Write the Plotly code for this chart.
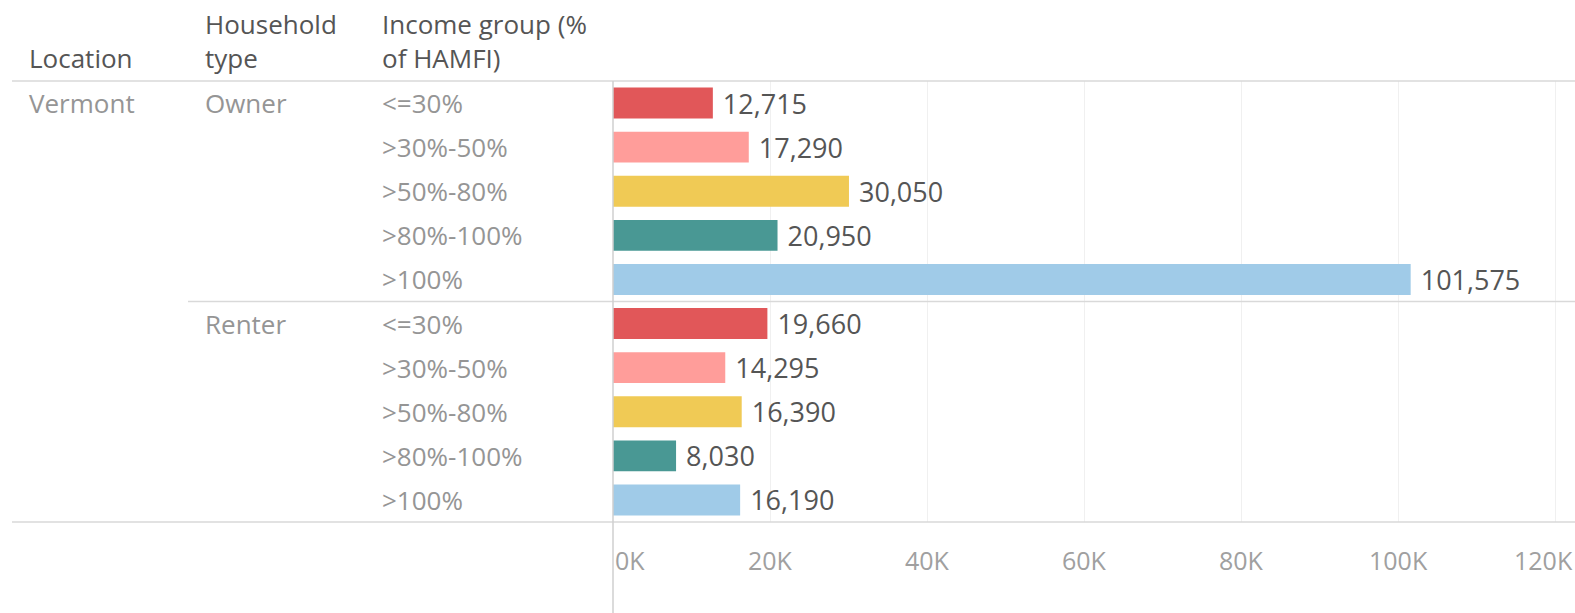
import plotly.graph_objects as go

locations = ["Vermont"]
household_types = ["Owner", "Renter"]
income_groups = ["<=30%", ">30%-50%", ">50%-80%", ">80%-100%", ">100%"]
owner_values = [12715, 17290, 30050, 20950, 101575]
renter_values = [19660, 14295, 16390, 8030, 16190]
group_colors = ["#E15759", "#FF9D9A", "#F0CA55", "#499894", "#A0CBE8"]
tick_values = [0, 20000, 40000, 60000, 80000, 100000, 120000]
tick_labels = ["0K", "20K", "40K", "60K", "80K", "100K", "120K"]
headers = ["Location", "Household<br>type", "Income group (%<br>of HAMFI)"]

W, H = 1575, 613
L, R, T, B = 613, 0, 81, 91
PW = W - L - R
PH = H - T - B

def px_x(p):
    return (p - L) / PW

def px_y(p):
    return (H - B - p) / PH

FONT = "Open Sans"

values = owner_values + renter_values
ypos = list(range(len(values)))
colors = group_colors * len(household_types)

fig = go.Figure()
fig.add_trace(go.Bar(
    x=values, y=ypos, orientation="h",
    marker=dict(color=colors, line=dict(width=0)),
    width=0.7,
    text=[f" {v:,}" for v in values],
    textposition="outside",
    constraintext="none",
    textfont=dict(family=FONT, size=27, color="#555555"),
    cliponaxis=False,
    hoverinfo="skip",
))

ann = []
hx = [27, 203, 380]
for i, h in enumerate(headers):
    ann.append(dict(xref="paper", yref="paper", x=px_x(hx[i]), y=px_y(78),
                    xanchor="left", yanchor="bottom", text=h, showarrow=False, align="left",
                    font=dict(family=FONT, size=26, color="#555555")))
ann.append(dict(xref="paper", yref="y", x=px_x(27), y=0, xanchor="left", yanchor="middle",
                text=locations[0], showarrow=False, font=dict(family=FONT, size=26, color="#959595")))
for j, ht in enumerate(household_types):
    ann.append(dict(xref="paper", yref="y", x=px_x(203), y=j * len(income_groups), xanchor="left",
                    yanchor="middle", text=ht, showarrow=False,
                    font=dict(family=FONT, size=26, color="#959595")))
    for k, g in enumerate(income_groups):
        ann.append(dict(xref="paper", yref="y", x=px_x(380), y=j * len(income_groups) + k,
                        xanchor="left", yanchor="middle", text=g.replace("<", "&lt;").replace(">", "&gt;"),
                        showarrow=False, font=dict(family=FONT, size=26, color="#959595")))

# axis tick labels (first label starts at the axis, last label sits at the right edge)
n_ticks = len(tick_values)
for i, (tv, tl) in enumerate(zip(tick_values, tick_labels)):
    if i == 0:
        a = dict(xref="x", x=tv, xanchor="left")
    elif i == n_ticks - 1:
        a = dict(xref="paper", x=1, xanchor="right")
    else:
        a = dict(xref="x", x=tv, xanchor="center")
    a.update(yref="paper", y=px_y(560), yanchor="middle", text=tl, showarrow=False,
             font=dict(family=FONT, size=25, color="#a0a0a0"))
    ann.append(a)

shapes = [
    dict(type="line", xref="paper", yref="paper", x0=px_x(12), x1=1, y0=px_y(81), y1=px_y(81),
         line=dict(color="#d9d9d9", width=1.5)),
    dict(type="line", xref="paper", yref="paper", x0=px_x(188), x1=1, y0=px_y(301.5), y1=px_y(301.5),
         line=dict(color="#d9d9d9", width=1.5)),
    dict(type="line", xref="paper", yref="paper", x0=px_x(12), x1=1, y0=px_y(522), y1=px_y(522),
         line=dict(color="#d9d9d9", width=1.5)),
    dict(type="line", xref="paper", yref="paper", x0=0, x1=0, y0=px_y(81), y1=px_y(613),
         line=dict(color="#cfcfcf", width=1.5)),
]

fig.update_layout(
    width=W, height=H,
    margin=dict(l=L, r=R, t=T, b=B),
    paper_bgcolor="white", plot_bgcolor="white",
    showlegend=False,
    annotations=ann,
    shapes=shapes,
    xaxis=dict(range=[0, 122500], tickvals=tick_values, showticklabels=False,
               showgrid=True, gridcolor="#f0f0f0", gridwidth=1, zeroline=False,
               showline=False, ticks="", fixedrange=True),
    yaxis=dict(range=[len(values) - 0.5, -0.5], showticklabels=False, showgrid=False,
               zeroline=False, showline=False, fixedrange=True),
)

fig.write_html(
    "out.html",
    config={"displayModeBar": False},
    post_script="document.body.style.margin='0';document.body.style.overflow='hidden';",
)
